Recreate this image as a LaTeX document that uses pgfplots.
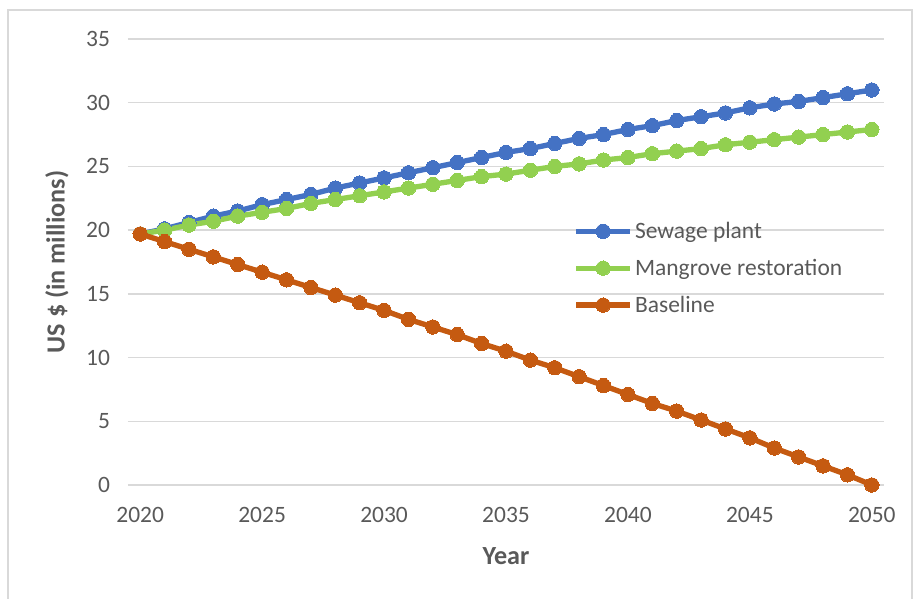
\documentclass[border=0pt]{standalone}
\usepackage{pgfplots}
\pgfplotsset{compat=1.18}
\usepackage{fontspec}
\setmainfont{Carlito}
\definecolor{cblue}{HTML}{4472C4}
\definecolor{cgreen}{HTML}{92D050}
\definecolor{corange}{HTML}{C55A11}
\definecolor{ctext}{HTML}{595959}
\definecolor{cgrid}{HTML}{D9D9D9}
\begin{document}
\begin{tikzpicture}
\path[use as bounding box] (-96pt,-85.5pt) rectangle (588.75pt,363.75pt);
\draw[cgrid,line width=0.8pt] (-90pt,-100pt) -- (-90pt,356.25pt) -- (588pt,356.25pt) -- (588pt,-100pt);
\begin{axis}[
  at={(0,0)}, anchor=south west,
  scale only axis,
  width=567pt, height=334.5pt,
  xmin=2019.5, xmax=2050.5,
  ymin=0, ymax=35,
  xtick={2020,2025,...,2050},
  ytick={0,5,...,35},
  axis line style={draw=none},
  major tick length=0pt,
  ymajorgrids,
  grid style={cgrid,line width=1pt},
  /pgf/number format/assume math mode=true,
  /pgf/number format/1000 sep={},
  tick label style={font=\fontsize{17.6}{20}\selectfont, text=ctext},
  yticklabel style={xshift=-10pt},
  xticklabel style={yshift=-13pt},
  xlabel={Year},
  ylabel={US \$ (in millions)},
  label style={font=\fontsize{19.6}{22}\selectfont\bfseries, text=ctext},
  xlabel style={at={(axis description cs:0.5,-0.159)}, anchor=center},
  ylabel style={at={(axis description cs:-0.0939,0.5)}, anchor=center, rotate=0},
  legend style={draw=none, fill=none, at={(axis description cs:0.584,0.602)}, anchor=north west,
    font=\fontsize{17.6}{20}\selectfont, text=ctext, row sep=10pt,
    /tikz/every even column/.append style={column sep=0pt}},
  legend cell align=left,
  legend image code/.code={\draw[#1,mark repeat=2,mark phase=2] plot coordinates {(0pt,0pt) (20pt,0pt) (40pt,0pt)};},
  every axis plot/.append style={line width=4pt, mark=*, mark size=5.4pt},
]
\addplot[cblue, mark options={fill=cblue, draw=cblue, line width=0pt}] coordinates {
(2020,19.7)(2021,20.1)(2022,20.6)(2023,21.1)(2024,21.5)(2025,22.0)(2026,22.4)(2027,22.8)(2028,23.3)(2029,23.7)
(2030,24.1)(2031,24.5)(2032,24.9)(2033,25.3)(2034,25.7)(2035,26.1)(2036,26.4)(2037,26.8)(2038,27.2)(2039,27.5)
(2040,27.9)(2041,28.2)(2042,28.6)(2043,28.9)(2044,29.2)(2045,29.6)(2046,29.9)(2047,30.1)(2048,30.4)(2049,30.7)(2050,31.0)};
\addlegendentry{Sewage plant}
\addplot[cgreen, mark options={fill=cgreen, draw=cgreen, line width=0pt}] coordinates {
(2020,19.7)(2021,20.0)(2022,20.4)(2023,20.7)(2024,21.1)(2025,21.4)(2026,21.7)(2027,22.1)(2028,22.4)(2029,22.7)
(2030,23.0)(2031,23.3)(2032,23.6)(2033,23.9)(2034,24.2)(2035,24.4)(2036,24.7)(2037,25.0)(2038,25.2)(2039,25.5)
(2040,25.7)(2041,26.0)(2042,26.2)(2043,26.4)(2044,26.7)(2045,26.9)(2046,27.1)(2047,27.3)(2048,27.5)(2049,27.7)(2050,27.9)};
\addlegendentry{Mangrove restoration}
\addplot[corange, mark options={fill=corange, draw=corange, line width=0pt}] coordinates {
(2020,19.7)(2021,19.1)(2022,18.5)(2023,17.9)(2024,17.3)(2025,16.7)(2026,16.1)(2027,15.5)(2028,14.9)(2029,14.3)
(2030,13.7)(2031,13.0)(2032,12.4)(2033,11.8)(2034,11.1)(2035,10.5)(2036,9.8)(2037,9.2)(2038,8.5)(2039,7.8)
(2040,7.1)(2041,6.4)(2042,5.8)(2043,5.1)(2044,4.4)(2045,3.7)(2046,2.9)(2047,2.2)(2048,1.5)(2049,0.8)(2050,0.0)};
\addlegendentry{Baseline}
\end{axis}
\end{tikzpicture}
\end{document}
